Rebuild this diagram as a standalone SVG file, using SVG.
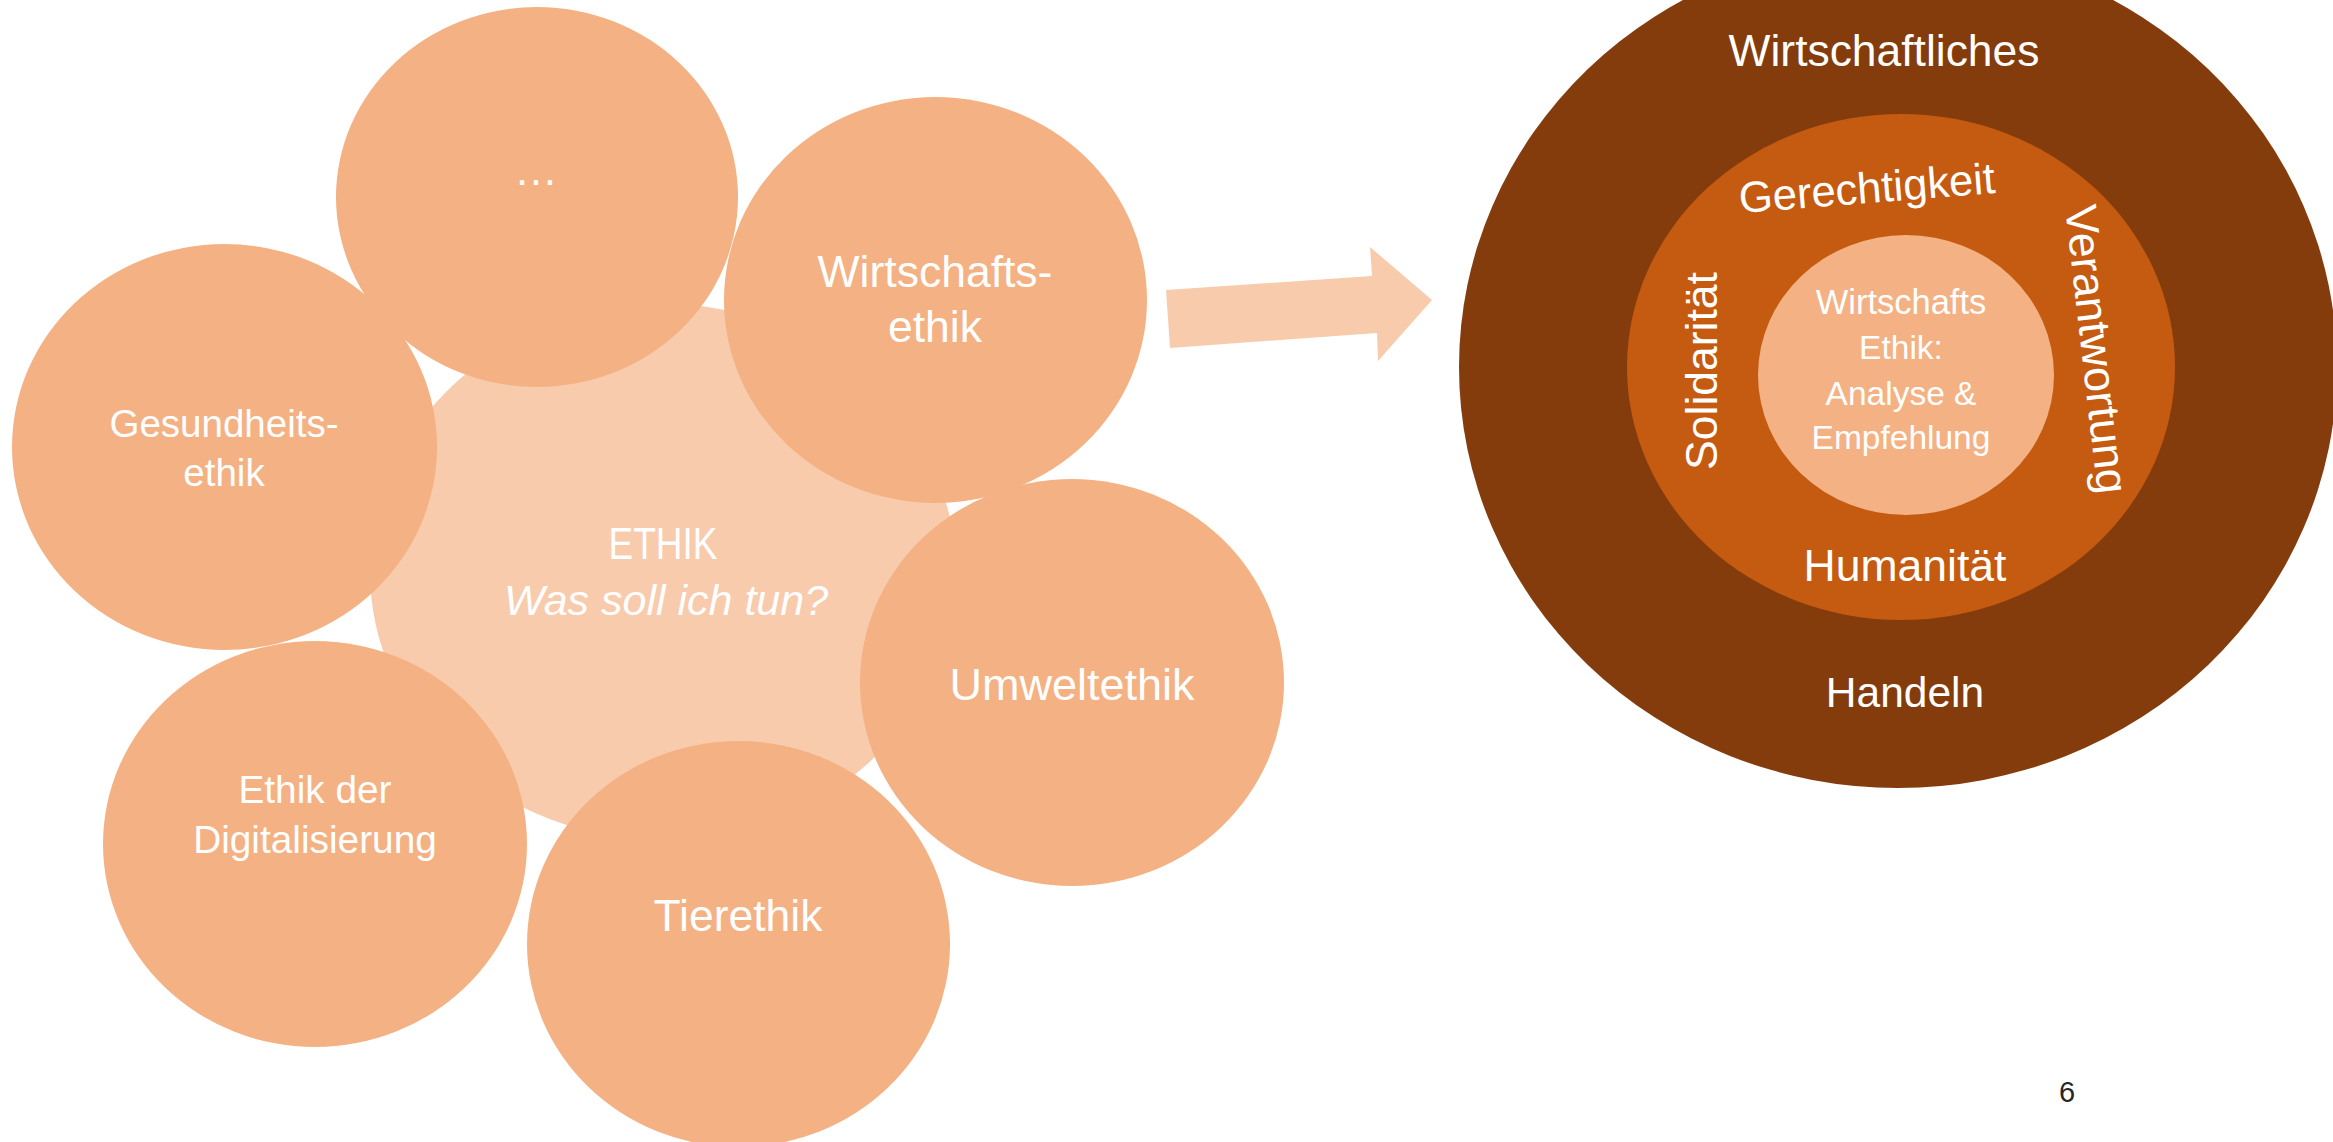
<svg xmlns="http://www.w3.org/2000/svg" width="2333" height="1142" viewBox="0 0 2333 1142">
  <style>
    .t { font-family: "Liberation Sans", Arial, sans-serif; fill: #FFFFFF; text-anchor: middle; }
    .sat { fill: #F4B183; }
    .light { fill: #F8CBAD; }
  </style>
  <rect width="2333" height="1142" fill="#FFFFFF"/>

  <g id="ethik">
    <ellipse class="light" cx="663" cy="572" rx="293" ry="268"/>
    <text class="t" x="663" y="559" font-size="44" textLength="109" lengthAdjust="spacingAndGlyphs">ETHIK</text>
    <text class="t" x="666" y="615" font-size="43" font-style="italic">Was soll ich tun?</text>
  </g>

  <g id="node-more">
    <ellipse class="sat" cx="537" cy="197" rx="201" ry="190"/>
    <text class="t" x="536" y="185" font-size="44">…</text>
  </g>

  <g id="node-wirtschaftsethik">
    <ellipse class="sat" cx="935.5" cy="300" rx="211.5" ry="203"/>
    <text class="t" x="935" y="287" font-size="44.5">Wirtschafts-</text>
    <text class="t" x="935" y="342" font-size="44.5">ethik</text>
  </g>

  <g id="node-gesundheitsethik">
    <ellipse class="sat" cx="224.5" cy="447" rx="212.5" ry="203"/>
    <text class="t" x="224" y="437" font-size="38.5">Gesundheits-</text>
    <text class="t" x="224" y="486" font-size="38.5">ethik</text>
  </g>

  <g id="node-umweltethik">
    <ellipse class="sat" cx="1072" cy="682.5" rx="212" ry="203.5"/>
    <text class="t" x="1072" y="700" font-size="45">Umweltethik</text>
  </g>

  <g id="node-digitalisierung">
    <ellipse class="sat" cx="315" cy="844" rx="212" ry="203"/>
    <text class="t" x="315" y="803" font-size="38.8">Ethik der</text>
    <text class="t" x="315" y="853" font-size="38.8">Digitalisierung</text>
  </g>

  <g id="node-tierethik">
    <ellipse class="sat" cx="738.5" cy="944" rx="211.5" ry="203"/>
    <text class="t" x="738" y="931" font-size="44.5">Tierethik</text>
  </g>

  <g id="connectors">
    <polygon class="light" points="1166,290 1372,276 1370,247 1432,300 1378,361 1377,333 1170,348"/>
  </g>

  <g id="wirtschaftliches-handeln">
    <ellipse cx="1898" cy="367" rx="439" ry="421" fill="#843C0C"/>
    <text class="t" x="1884" y="66" font-size="44.4">Wirtschaftliches</text>
    <text class="t" x="1905" y="707" font-size="42.5">Handeln</text>
  </g>

  <g id="werte">
    <ellipse cx="1901" cy="367" rx="274" ry="253" fill="#C55A11"/>
    <text class="t" transform="translate(1868,203) rotate(-4.5)" x="0" y="0" font-size="43.6">Gerechtigkeit</text>
    <text class="t" transform="translate(2081.5,351) rotate(83.5)" x="0" y="0" font-size="45">Verantwortung</text>
    <text class="t" transform="translate(1717,371) rotate(-90)" x="0" y="0" font-size="44.5">Solidarität</text>
    <text class="t" x="1905" y="581" font-size="44.5">Humanität</text>
  </g>

  <g id="wirtschaftsethik-kern">
    <ellipse class="sat" cx="1906" cy="375" rx="148" ry="140"/>
    <text class="t" x="1901" y="314" font-size="34.5">Wirtschafts</text>
    <text class="t" x="1901" y="359" font-size="33.5">Ethik:</text>
    <text class="t" x="1901" y="405" font-size="33.5">Analyse &amp;</text>
    <text class="t" x="1901" y="449" font-size="33.5">Empfehlung</text>
  </g>

  <g id="page-number">
    <text x="2067" y="1102" font-family="Liberation Sans, Arial, sans-serif" font-size="29" fill="#262626" text-anchor="middle">6</text>
  </g>
</svg>
